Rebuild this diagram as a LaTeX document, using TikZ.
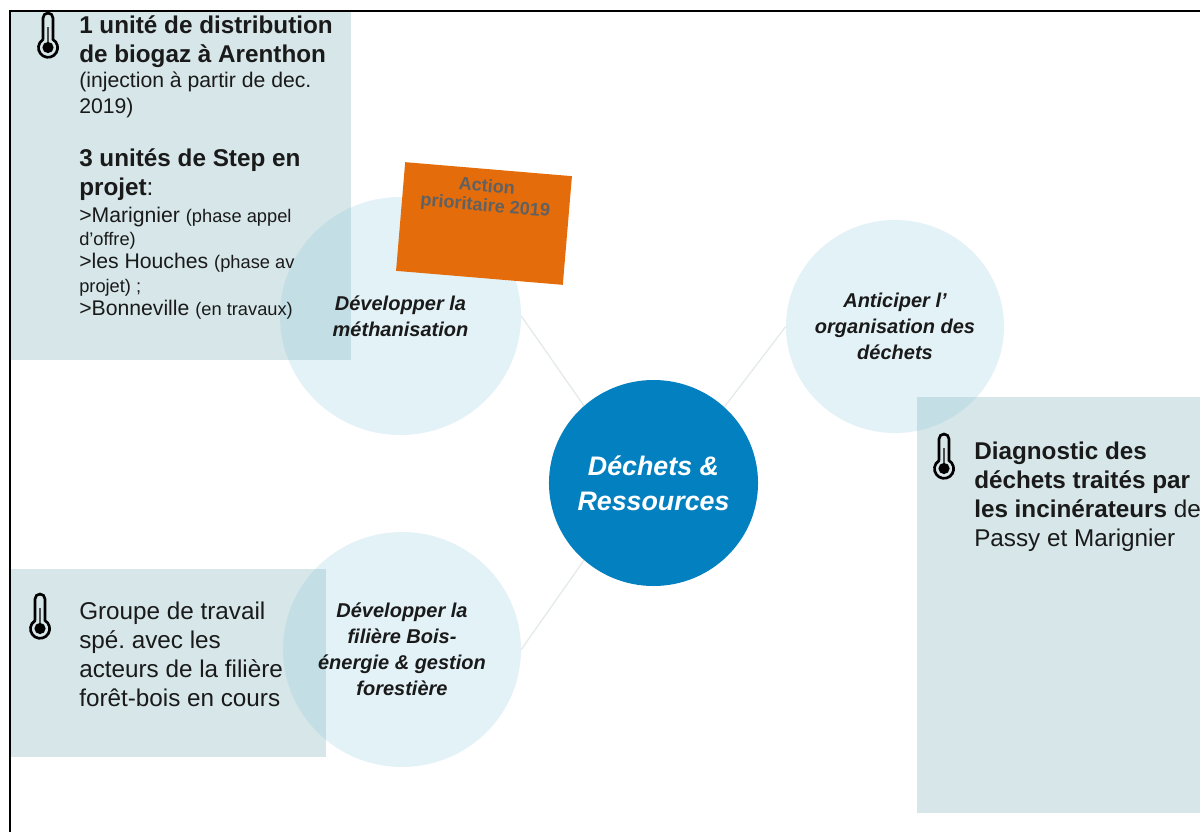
\documentclass[tikz,border=0pt]{standalone}
\usepackage{fontspec}
\usetikzlibrary{shapes.geometric}
\setmainfont{Liberation Sans}
\frenchspacing
\definecolor{teal1}{HTML}{0280C0}
\definecolor{pale}{rgb}{.518,.77,.859}
\definecolor{boxc}{HTML}{D6E6E9}
\definecolor{orng}{HTML}{E46C0A}
\definecolor{lnk}{HTML}{E3E8EA}
\definecolor{txtc}{HTML}{1A1A1A}
% one row of a text block: #1 baseline gap in px, #2 content
\newcommand{\txtrow}[2]{\hbox{\rule{0pt}{\dimexpr#1pt*3/4\relax}\smash{\hbox{#2}}}}
\newcommand{\sbig}{\fontsize{18.2}{21}\selectfont\bfseries}
\newcommand{\smid}{\fontsize{15.9}{20}\selectfont}
\newcommand{\ssml}{\fontsize{13.7}{18}\selectfont}
\tikzset{
  px/.style={x=0.75pt,y=-0.75pt},
  topic/.style={ellipse,fill=pale,fill opacity=.22,text opacity=1,inner sep=0pt,inner xsep=-10pt,align=center,font=\bfseries\itshape\fontsize{15}{19.6}\selectfont,text=txtc},
  hub/.style={ellipse,fill=teal1,inner sep=0pt,inner xsep=-10pt,align=center,text=white,font=\bfseries\itshape\fontsize{20.1}{26.3}\selectfont},
  link/.style={draw=lnk,line width=0.9pt},
  panel/.style={fill=boxc},
  body/.style={anchor=north west,inner sep=0pt,align=left,text=txtc},
  para/.style={body,font=\fontsize{18.2}{21.75}\selectfont},
  tag/.style={fill=orng,inner sep=0pt,rotate=-4.8},
  tagtext/.style={inner sep=0pt,rotate=-4.8,align=center,text=black!62,font=\bfseries\fontsize{13.6}{14.6}\selectfont},
  frame/.style={draw=black,line width=1.1pt},
  pics/thermo/.style={code={
    \draw[black,line width=2pt]
      (-5,27.5) -- (-5,6) arc[start angle=180,end angle=360,radius=5]
      -- (5,27.5) arc[start angle=-59,end angle=239,radius=9.6];
    \fill[black] (0,35.5) circle (5.6);
    \draw[black!70,line width=1.1pt] (0,15) -- (0,30);
  }}
}
\begin{document}
\begin{tikzpicture}[px]
\useasboundingbox (0,0) rectangle (1200,832);
\clip (0,0) rectangle (1200,832);
\fill[white] (0,0) rectangle (1200,832);
% panels
\fill[panel] (10,11) rectangle (351,360);
\fill[panel] (10,569) rectangle (326,757);
\fill[panel] (917,397) rectangle (1200,813);
% circles
\node[hub,minimum width=156.8pt,minimum height=154.5pt] (hubn) at (653.5,483) {Déchets \&\\Ressources};
\node[topic,minimum width=180.8pt,minimum height=178.5pt] (meth) at (400.5,316) {Développer la\\méthanisation};
\node[topic,minimum width=178.5pt,minimum height=176.2pt] (bois) at (402,649.5) {Développer la\\filière Bois-\\énergie \& gestion\\forestière};
\node[topic,minimum width=163.5pt,minimum height=159.8pt] (orga) at (895,326.5) {Anticiper l\symbol{39}\\organisation des\\déchets};
% connectors
\draw[link] (hubn.132) -- (meth.0);
\draw[link] (hubn.47) -- (orga.180);
\draw[link] (hubn.228) -- (bois.0);
% frame
\coordinate (fa) at (10,832);
\coordinate (fb) at (10,11);
\coordinate (fc) at (1200,11);
\draw[frame] (fa) -- (fb) -- (fc);
% tag
\node[tag,minimum width=125.5pt,minimum height=81.8pt] (tagn) at (484,223.5) {};
\node[tagtext] (tagt) at (486,197) {Action\\prioritaire 2019};
% icons
\pic at (48,12) {thermo};
\pic at (944,433) {thermo};
\pic at (40,593) {thermo};
% texts
\node[body] (t1) at (79,4) {\vbox{\offinterlineskip
\txtrow{29}{\sbig 1 unité de distribution}
\txtrow{29}{\sbig de biogaz à Arenthon}
\txtrow{25.5}{\smid (injection à partir de dec.}
\txtrow{25.5}{\smid 2019)}
\txtrow{53}{\sbig 3 unités de Step en}
\txtrow{29}{\sbig projet\mdseries:}
\txtrow{27}{\smid >Marignier {\ssml (phase appel}}
\txtrow{23}{\ssml d’offre)}
\txtrow{23}{\smid >les Houches {\ssml (phase av}}
\txtrow{24}{\ssml projet) ;}
\txtrow{23.5}{\smid >Bonneville {\ssml (en travaux)}}
}};
\node[para] (t2) at (79,601.5) {Groupe de travail\\spé. avec les\\acteurs de la filière\\forêt-bois en cours};
\node[para] (t3) at (974,441.5) {\textbf{Diagnostic des}\\\textbf{déchets traités par}\\\textbf{les incinérateurs} de\\Passy et Marignier};
\end{tikzpicture}
\end{document}
